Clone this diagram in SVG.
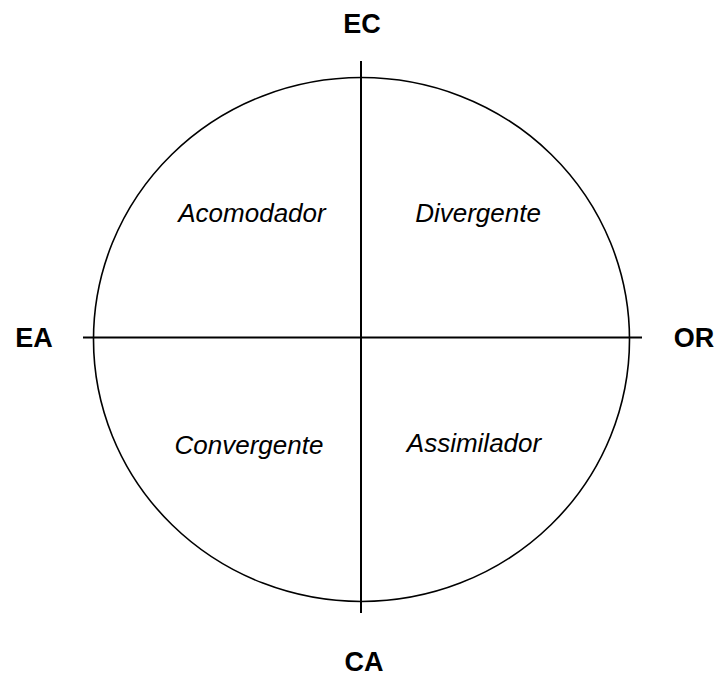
<svg xmlns="http://www.w3.org/2000/svg" width="716" height="677" viewBox="0 0 716 677">
<style>
.axis{font-family:"Liberation Sans",Arial,sans-serif;font-weight:bold;font-size:27px;fill:#000;text-anchor:middle}
.q{font-family:"Liberation Sans",Arial,sans-serif;font-style:italic;font-size:26px;fill:#000;text-anchor:middle}
</style>
<rect width="716" height="677" fill="#fff"/>
<g id="circle"><ellipse cx="361.5" cy="339.5" rx="268" ry="262" fill="none" stroke="#000" stroke-width="1.6"/></g>
<g id="connectors">
<line x1="361" y1="61" x2="361" y2="613" stroke="#000" stroke-width="2"/>
<line x1="83" y1="337.5" x2="642" y2="337.5" stroke="#000" stroke-width="2"/>
</g>
<g id="EC"><text class="axis" x="362" y="33">EC</text></g>
<g id="EA"><text class="axis" x="34" y="347">EA</text></g>
<g id="OR"><text class="axis" x="694" y="347">OR</text></g>
<g id="CA"><text class="axis" x="364" y="671">CA</text></g>
<g id="Acomodador"><text class="q" x="252" y="222">Acomodador</text></g>
<g id="Divergente"><text class="q" x="478" y="222">Divergente</text></g>
<g id="Convergente"><text class="q" x="249" y="454">Convergente</text></g>
<g id="Assimilador"><text class="q" x="474" y="452">Assimilador</text></g>
</svg>
